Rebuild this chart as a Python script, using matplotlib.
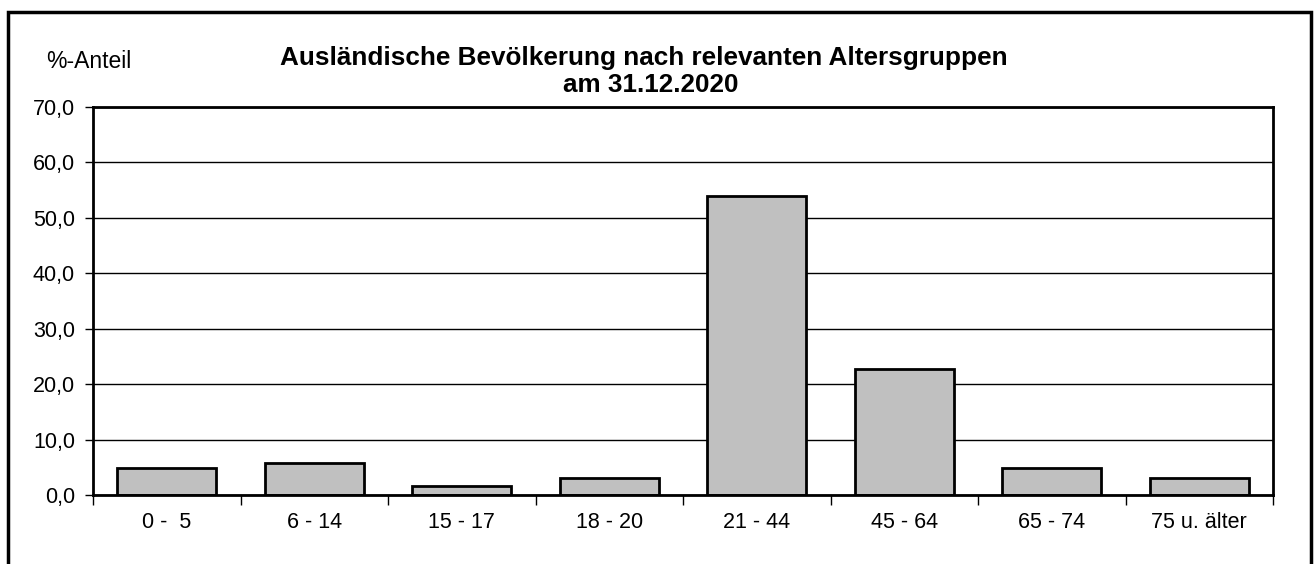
import matplotlib.pyplot as plt
import numpy as np
from matplotlib.patches import Rectangle
from matplotlib.ticker import FuncFormatter

plt.rcParams['font.family'] = ['Liberation Sans', 'DejaVu Sans']

gruppen = ['0 -  5', '6 - 14', '15 - 17', '18 - 20', '21 - 44', '45 - 64', '65 - 74', '75 u. älter']
anteil = [4.9, 5.7, 1.6, 3.0, 53.9, 22.7, 4.9, 3.0]

fig = plt.figure(figsize=(13.14, 5.64), dpi=100)
ax = fig.add_axes([93/1314, 1 - 495/564, 1180/1314, 388/564])

x = np.arange(len(gruppen))
ax.bar(x, anteil, width=0.67, color='#c0c0c0', edgecolor='black', linewidth=2, zorder=3)

ax.set_xlim(-0.5, len(gruppen) - 0.5)
ax.set_ylim(0, 70)
ax.set_yticks(np.arange(0, 71, 10))
ax.yaxis.set_major_formatter(FuncFormatter(lambda v, p: f'{v:.1f}'.replace('.', ',')))
ax.grid(axis='y', color='black', linewidth=1, zorder=0)

# category labels centred, ticks at the boundaries
ax.set_xticks(x)
ax.set_xticklabels(gruppen)
ax.set_xticks(np.arange(-0.5, len(gruppen)), minor=True)
ax.tick_params(axis='x', which='major', length=0, pad=12, labelsize=15.5)
ax.tick_params(axis='x', which='minor', length=7, width=1, direction='out')
ax.tick_params(axis='y', length=6, width=1, direction='out', pad=7, labelsize=15.5)

for s in ax.spines.values():
    s.set_linewidth(2)
    s.set_zorder(4)

fig.text(644/1314, 1 - 58/564, 'Ausländische Bevölkerung nach relevanten Altersgruppen',
         ha='center', va='center', fontsize=18.8, fontweight='bold')
fig.text(651/1314, 1 - 85/564, 'am 31.12.2020',
         ha='center', va='center', fontsize=18.8, fontweight='bold')
fig.text(46/1314, 1 - 62/564, '%-Anteil', ha='left', va='center', fontsize=16.5)

# outer frame
fig.patches.append(Rectangle((8/1314, -0.2), (1311 - 8)/1314, 1 - 12/564 + 0.2,
                             transform=fig.transFigure, fill=False,
                             edgecolor='black', linewidth=2.5))

fig.savefig('out.png', dpi=100)
